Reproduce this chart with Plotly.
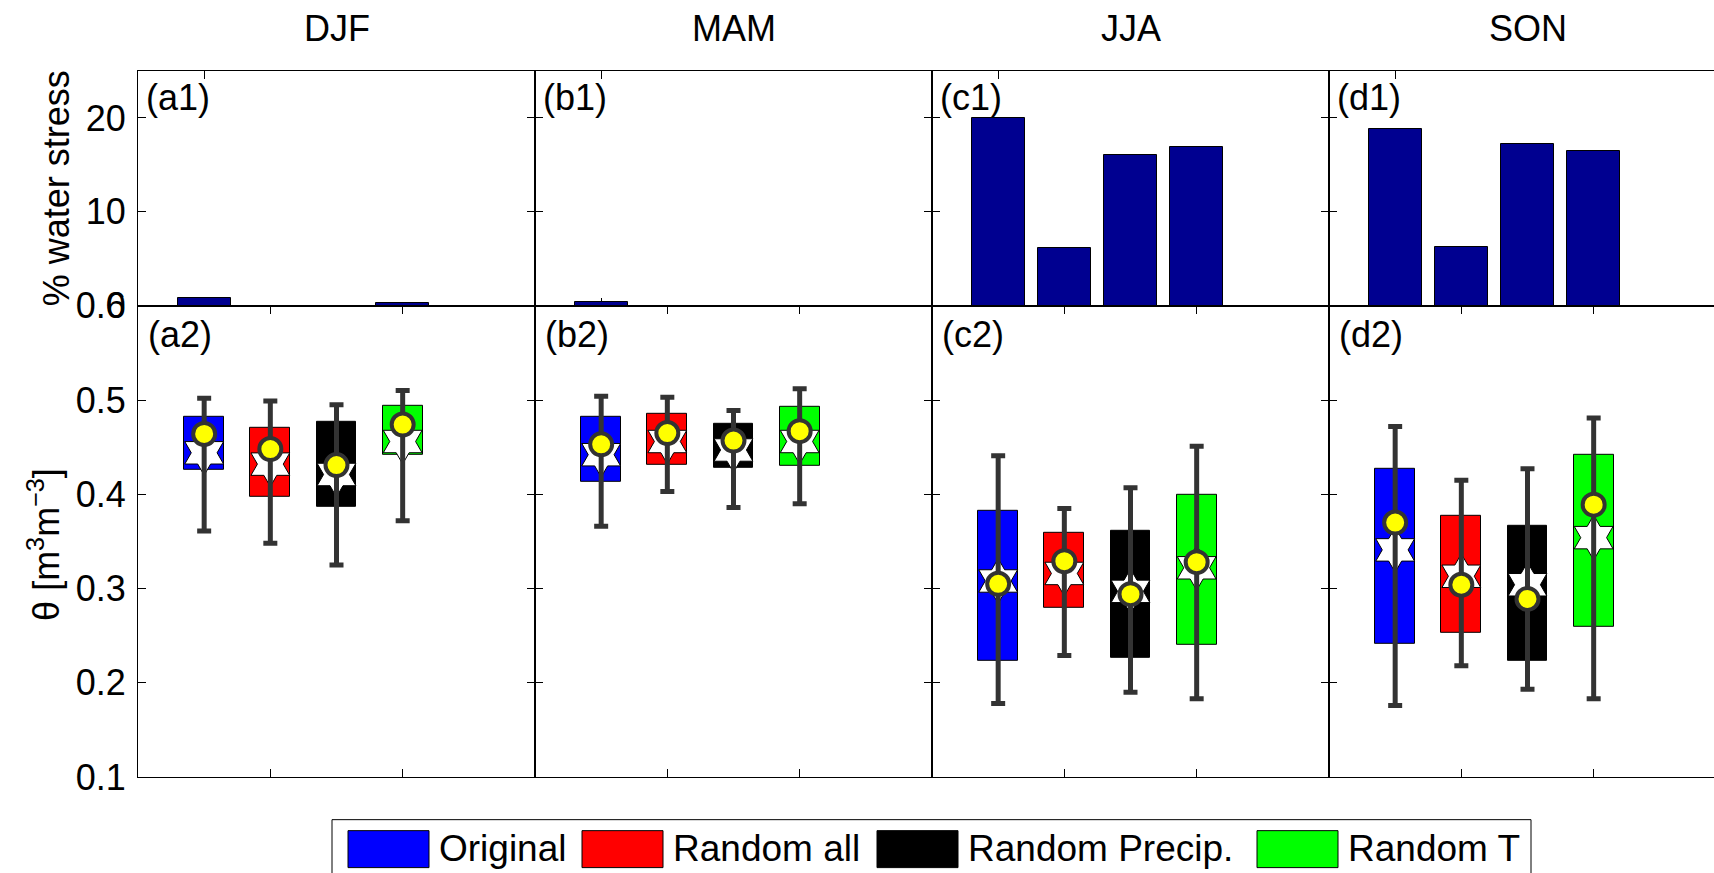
import plotly.graph_objects as go

# ---- data -------------------------------------------------------------
seasons = ["DJF", "MAM", "JJA", "SON"]
experiments = ["Original", "Random all", "Random Precip.", "Random T"]
positions = [1, 2, 3, 4]

# % of days under water stress, one list per season (experiment order)
stress_djf = [0.85, 0.0, 0.0, 0.3]
stress_mam = [0.4, 0.0, 0.0, 0.0]
stress_jja = [20.0, 6.2, 16.1, 16.9]
stress_son = [18.8, 6.3, 17.2, 16.5]
stress = [stress_djf, stress_mam, stress_jja, stress_son]

# soil moisture statistics [m3 m-3], rows = seasons, columns = experiments
whisker_low = [[0.361, 0.348, 0.325, 0.372],
               [0.366, 0.403, 0.386, 0.390],
               [0.178, 0.229, 0.190, 0.183],
               [0.176, 0.218, 0.193, 0.183]]
quart_low = [[0.426, 0.397, 0.387, 0.442],
             [0.413, 0.431, 0.428, 0.430],
             [0.223, 0.280, 0.227, 0.240],
             [0.241, 0.253, 0.223, 0.259]]
quart_high = [[0.482, 0.471, 0.477, 0.494],
              [0.482, 0.485, 0.475, 0.493],
              [0.383, 0.359, 0.361, 0.399],
              [0.427, 0.377, 0.367, 0.442]]
whisker_high = [[0.502, 0.499, 0.495, 0.510],
                [0.504, 0.503, 0.489, 0.512],
                [0.441, 0.385, 0.407, 0.451],
                [0.472, 0.415, 0.427, 0.481]]
means = [[0.464, 0.448, 0.431, 0.474],
         [0.453, 0.465, 0.457, 0.467],
         [0.305, 0.329, 0.294, 0.328],
         [0.370, 0.304, 0.289, 0.389]]
medians = [[0.444, 0.432, 0.421, 0.456],
           [0.442, 0.456, 0.447, 0.456],
           [0.308, 0.316, 0.297, 0.322],
           [0.341, 0.313, 0.304, 0.354]]

top_labels = ["(a1)", "(b1)", "(c1)", "(d1)"]
bottom_labels = ["(a2)", "(b2)", "(c2)", "(d2)"]

# ---- styling ----------------------------------------------------------
exp_colors = ["#0000FF", "#FF0000", "#000000", "#00FF00"]
bar_color = "#000090"
whisk_color = "#333333"
FONT = "Liberation Sans, Arial, sans-serif"
FS = 36

W, H = 1714, 873
L, R, T, B = 138, 0, 70.7, 95.7
PW = W - L - R
PH = H - T - B
panel_w = 397.0
split_px = 305.7          # boundary between the two rows
y_split = (H - B - split_px) / PH


def px_x(px):
    return (px - L) / PW


def px_y(py):
    return (H - B - py) / PH


fig = go.Figure()

layout = dict(
    width=W, height=H, autosize=False,
    margin=dict(l=L, r=R, t=T, b=B, pad=0),
    paper_bgcolor="white", plot_bgcolor="white",
    showlegend=False, bargap=0,
    font=dict(family=FONT, size=FS, color="black"),
)

for i, season in enumerate(seasons):
    x0 = L + panel_w * i
    x1 = min(x0 + panel_w, W)
    dom = [px_x(x0), px_x(x1)]
    xmax = 6.0 * (x1 - x0) / panel_w
    last = (i == len(seasons) - 1)

    it = i + 1          # top-row axes
    ib = i + 5          # bottom-row axes
    xt, yt = f"x{it}", f"y{it}"
    xb, yb = f"x{ib}", f"y{ib}"

    # top row: water-stress bars
    fig.add_trace(go.Bar(
        x=positions, y=stress[i], width=0.8,
        marker=dict(color=bar_color, line=dict(color="black", width=1)),
        xaxis=xt, yaxis=yt, hoverinfo="skip"))

    # bottom row: interquartile boxes
    fig.add_trace(go.Bar(
        x=positions,
        y=[hi - lo for hi, lo in zip(quart_high[i], quart_low[i])],
        base=quart_low[i], width=0.6,
        marker=dict(color=exp_colors, line=dict(color="black", width=1)),
        xaxis=xb, yaxis=yb, hoverinfo="skip"))

    # medians (white stars)
    fig.add_trace(go.Scatter(
        x=positions, y=medians[i], mode="markers",
        marker=dict(symbol="hexagram", size=34, color="white",
                    line=dict(color="black", width=1)),
        xaxis=xb, yaxis=yb, hoverinfo="skip"))

    # means (yellow circles) with whiskers
    fig.add_trace(go.Scatter(
        x=positions, y=means[i], mode="markers",
        marker=dict(symbol="circle", size=22, color="#FFFF00",
                    line=dict(color=whisk_color, width=4)),
        error_y=dict(type="data", symmetric=False,
                     array=[h - m for h, m in zip(whisker_high[i], means[i])],
                     arrayminus=[m - l for m, l in zip(means[i], whisker_low[i])],
                     color=whisk_color, thickness=5, width=7),
        xaxis=xb, yaxis=yb, hoverinfo="skip"))

    common_x = dict(domain=dom, range=[0, xmax], showgrid=False, zeroline=False,
                    showline=True, linecolor="black", linewidth=1,
                    mirror="ticks", ticks="inside", ticklen=8, tickwidth=1,
                    tickcolor="black", showticklabels=False, fixedrange=True)
    common_y = dict(showgrid=False, zeroline=False, showline=True,
                    linecolor="black", linewidth=1,
                    mirror=(False if last else "ticks"), ticks="inside",
                    ticklen=8, tickwidth=1, tickcolor="black",
                    showticklabels=(i == 0), ticklabelstandoff=4,
                    tickfont=dict(size=FS, family=FONT), fixedrange=True)

    layout[f"xaxis{it}"] = dict(common_x, anchor=yt, tickvals=[1],
                                layer="below traces")
    layout[f"yaxis{it}"] = dict(common_y, anchor=xt, domain=[y_split, 1],
                                range=[0, 25], tickvals=[0, 10, 20],
                                ticktext=["0", "10", "20"])
    layout[f"xaxis{ib}"] = dict(common_x, anchor=yb, tickvals=[2, 4])
    layout[f"yaxis{ib}"] = dict(common_y, anchor=xb, domain=[0, y_split],
                                range=[0.1, 0.6],
                                tickvals=[0.1, 0.2, 0.3, 0.4, 0.5, 0.6],
                                ticktext=["0.1", "0.2", "0.3", "0.4", "0.5", "0.6"])

annotations = []
for i, season in enumerate(seasons):
    x0 = L + panel_w * i
    annotations.append(dict(text=season, xref="paper", yref="paper",
                            x=px_x(x0 + panel_w / 2), y=px_y(28),
                            xanchor="center", yanchor="middle",
                            showarrow=False, font=dict(size=FS)))
    annotations.append(dict(text=top_labels[i], xref="paper", yref="paper",
                            x=px_x(x0 + 6), y=px_y(97),
                            xanchor="left", yanchor="middle",
                            showarrow=False, font=dict(size=FS)))
    annotations.append(dict(text=bottom_labels[i], xref="paper", yref="paper",
                            x=px_x(x0 + 8), y=px_y(334),
                            xanchor="left", yanchor="middle",
                            showarrow=False, font=dict(size=FS)))

# y-axis titles
annotations.append(dict(text="% water stress", xref="paper", yref="paper",
                        x=px_x(56), y=px_y(188), textangle=-90,
                        xanchor="center", yanchor="middle",
                        showarrow=False, font=dict(size=FS)))
annotations.append(dict(text="θ [m<sup>3</sup>m<sup>−3</sup>]",
                        xref="paper", yref="paper",
                        x=px_x(44), y=px_y(545), textangle=-90,
                        xanchor="center", yanchor="middle",
                        showarrow=False, font=dict(size=FS)))

# legend panel below the plots
shapes = [dict(type="rect", xref="paper", yref="paper",
               x0=px_x(332), x1=px_x(1531), y0=px_y(820), y1=px_y(890),
               line=dict(color="black", width=1), fillcolor="white",
               layer="below")]
swatch_x = [348, 582, 877, 1257]
for name, col, sx in zip(experiments, exp_colors, swatch_x):
    shapes.append(dict(type="rect", xref="paper", yref="paper",
                       x0=px_x(sx), x1=px_x(sx + 81),
                       y0=px_y(831), y1=px_y(868),
                       line=dict(color="black", width=1), fillcolor=col))
    annotations.append(dict(text=name, xref="paper", yref="paper",
                            x=px_x(sx + 89), y=px_y(849),
                            xanchor="left", yanchor="middle",
                            showarrow=False, font=dict(size=37)))

layout["annotations"] = annotations
layout["shapes"] = shapes
fig.update_layout(**layout)

fig.write_html("out.html", config={"displayModeBar": False})
